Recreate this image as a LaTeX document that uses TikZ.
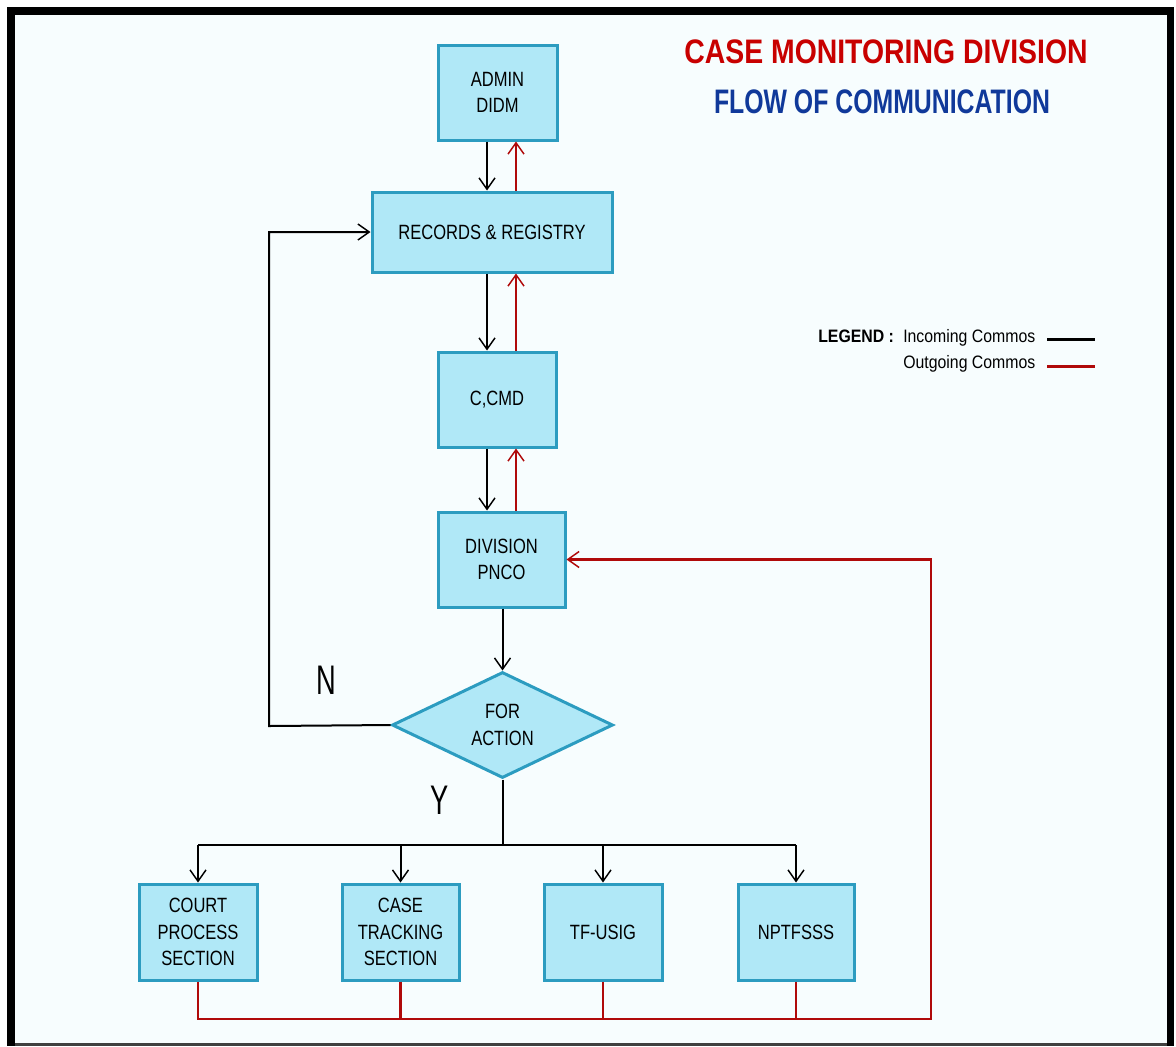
\documentclass[tikz,border=0pt]{standalone}
\usepackage{fontspec}
\setmainfont{Liberation Sans}[FakeStretch=0.8]
\newfontfamily\redtitlefont{Liberation Sans}[FakeStretch=0.835]
\newfontfamily\bluetitlefont{Liberation Sans}[FakeStretch=0.73]
\newfontfamily\legendfont{Liberation Sans}[FakeStretch=0.88]
\newfontfamily\branchfont{Liberation Sans}[FakeStretch=0.66]
\usetikzlibrary{arrows.meta,shapes.geometric}
\definecolor{pagebg}{HTML}{F7FDFE}
\definecolor{boxfill}{HTML}{B0E8F7}
\definecolor{boxline}{HTML}{2C9CC0}
\definecolor{outred}{HTML}{B00A0A}
\definecolor{titlered}{HTML}{C80000}
\definecolor{titleblue}{HTML}{10399A}
\tikzset{
  unitbox/.style={draw=boxline, line width=2.25pt, fill=boxfill, align=center,
    font=\fontsize{15.5}{20}\selectfont, inner sep=0pt},
  decision/.style={diamond, draw=boxline, line width=2.25pt, fill=boxfill, align=center,
    font=\fontsize{15.5}{20}\selectfont, inner sep=0pt},
  tip/.style={-{Straight Barb[length=8.5pt,width=12pt,line width=1.1pt]}},
  incoming/.style={draw=black, line width=1.5pt},
  outgoing/.style={draw=outred, line width=1.5pt},
  returnline/.style={draw=outred, line width=2pt},
}
\begin{document}
\begin{tikzpicture}[x=0.75pt,y=-0.75pt]
  % page and frame
  \useasboundingbox (0,0) rectangle (1176,1046);
  \fill[white] (0,0) rectangle (1176,1046);
  \fill[black] (7,7) rectangle (1174,1046);
  \fill[pagebg] (15,15) rectangle (1167,1043);
  \fill[black!75] (15,1043) rectangle (1167,1046);

  % titles
  \node[font=\fontsize{25.5}{30}\redtitlefont\bfseries, text=titlered] (title) at (886,52) {CASE MONITORING DIVISION};
  \node[font=\fontsize{25.5}{30}\bluetitlefont\bfseries, text=titleblue] (subtitle) at (882,102) {FLOW OF COMMUNICATION};

  % legend
  \node[anchor=base west, font=\fontsize{13.5}{16}\legendfont\bfseries, inner sep=0pt] (leg) at (818,342) {LEGEND :};
  \node[anchor=base west, font=\fontsize{13.5}{16}\legendfont, inner sep=0pt] (legin) at (903,342) {Incoming Commos};
  \node[anchor=base west, font=\fontsize{13.5}{16}\legendfont, inner sep=0pt] (legout) at (903,368) {Outgoing Commos};
  \coordinate (lin1) at (1047,339);
  \coordinate (lin2) at (1095,339);
  \coordinate (lout1) at (1047,366);
  \coordinate (lout2) at (1095,366);
  \draw[black, line width=2.25pt] (lin1) -- (lin2);
  \draw[outred, line width=2.25pt] (lout1) -- (lout2);

  % chain of offices
  \node[unitbox, minimum width={119*0.75pt}, minimum height={95*0.75pt}] (admin) at (497.5,92.5) {ADMIN\\DIDM};
  \node[unitbox, minimum width={240*0.75pt}, minimum height={80*0.75pt}] (records) at (492,232) {RECORDS \& REGISTRY};
  \node[unitbox, minimum width={118*0.75pt}, minimum height={95*0.75pt}] (cmd) at (497,399.5) {C,CMD};
  \node[unitbox, minimum width={127*0.75pt}, minimum height={95*0.75pt}] (pnco) at (501.5,559.5) {DIVISION\\PNCO};
  \node[decision, minimum width={221*0.75pt}, minimum height={106*0.75pt}] (action) at (502.5,725) {FOR\\ACTION};

  % sections
  \node[unitbox, minimum width={118*0.75pt}, minimum height={96*0.75pt}] (court) at (198,932) {COURT\\PROCESS\\SECTION};
  \node[unitbox, minimum width={117*0.75pt}, minimum height={96*0.75pt}] (tracking) at (400.5,932) {CASE\\TRACKING\\SECTION};
  \node[unitbox, minimum width={118*0.75pt}, minimum height={96*0.75pt}] (tfusig) at (603,932) {TF-USIG};
  \node[unitbox, minimum width={116*0.75pt}, minimum height={96*0.75pt}] (nptf) at (796,932) {NPTFSSS};

  % branch labels
  \node[font=\fontsize{31}{36}\branchfont] (nlabel) at (326,680) {N};
  \node[font=\fontsize{31}{36}\branchfont] (ylabel) at (440,800) {Y};

  % lanes for the paired up/down connectors
  \coordinate (down) at (487,0);
  \coordinate (up) at (516,0);

  % incoming communications
  \draw[incoming, tip] (admin.south -| down) -- (records.north -| down);
  \draw[incoming, tip] (records.south -| down) -- (cmd.north -| down);
  \draw[incoming, tip] (cmd.south -| down) -- (pnco.north -| down);
  \draw[incoming, tip] (pnco.south -| action.north) -- (action.north);
  \coordinate (nturn) at (269,726);
  \draw[incoming, tip] (action.west) -- (nturn) |- (records.west);
  \coordinate (split) at (502.5,845);
  \draw[incoming] (action.south) -- (split);
  \draw[incoming] (split -| court.north) -- (split -| nptf.north);
  \draw[incoming, tip] (split -| court.north) -- (court.north);
  \draw[incoming, tip] (split -| tracking.north) -- (tracking.north);
  \draw[incoming, tip] (split -| tfusig.north) -- (tfusig.north);
  \draw[incoming, tip] (split -| nptf.north) -- (nptf.north);

  % outgoing communications
  \draw[outgoing, tip] (records.north -| up) -- (admin.south -| up);
  \draw[outgoing, tip] (cmd.north -| up) -- (records.south -| up);
  \draw[outgoing, tip] (pnco.north -| up) -- (cmd.south -| up);
  \coordinate (ret) at (931,1019);
  \draw[returnline, tip] (court.south) |- (ret) |- (pnco.east);
  \draw[returnline] (tracking.south) -- (tracking.south |- ret);
  \draw[returnline] (tfusig.south) -- (tfusig.south |- ret);
  \draw[returnline] (nptf.south) -- (nptf.south |- ret);
\end{tikzpicture}
\end{document}
